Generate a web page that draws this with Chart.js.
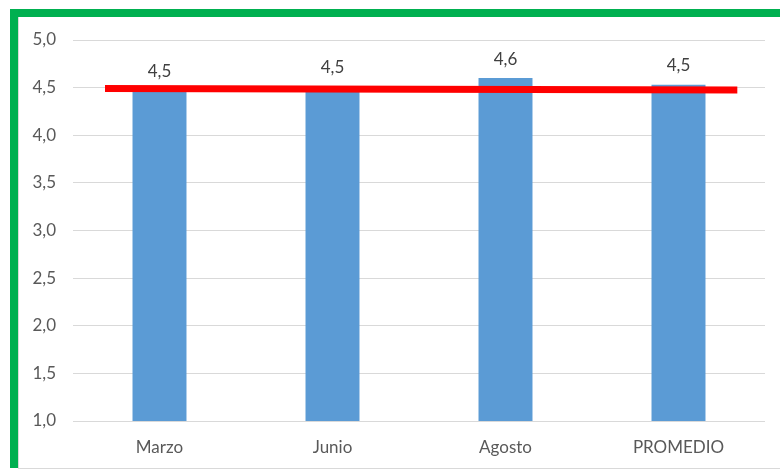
<!DOCTYPE html>
<html>
<head>
<meta charset="utf-8">
<script src="https://cdn.jsdelivr.net/npm/chart.js@4"></script>
<style>
  html, body { margin: 0; padding: 0; background: #ffffff; }
  #wrap { position: relative; width: 780px; height: 470px; overflow: hidden; }
  #frame { position: absolute; left: 10px; top: 9px; width: 790px; height: 459px;
           border-top: 8px solid #00b050; border-left: 8px solid #00b050; box-sizing: border-box; }
  #inner { position: absolute; left: 18px; top: 17px; width: 790px; height: 452px;
           border-left: 1px solid #d9d9d9; border-bottom: 1px solid #d9d9d9; box-sizing: border-box; }
  canvas { position: absolute; left: 0; top: 0; }
</style>
</head>
<body>
<div id="wrap">
  <div id="frame"></div>
  <div id="inner"></div>
  <canvas id="c" width="780" height="470"></canvas>
</div>
<script>
const categories = ['Marzo', 'Junio', 'Agosto', 'PROMEDIO'];
const barValues = [4.47, 4.51, 4.60, 4.53];
const barLabels = ['4,5', '4,5', '4,6', '4,5'];
const lineX = [0.185, 3.84];
const lineY = [4.49, 4.475];
const yMin = 1.0, yMax = 5.0, yStep = 0.5;

const FONT = 'Lato, "Open Sans", sans-serif';

const labelPlugin = {
  id: 'barLabels',
  afterDatasetsDraw(chart) {
    const meta = chart.getDatasetMeta(0);
    const ctx = chart.ctx;
    ctx.save();
    ctx.font = '17px ' + FONT;
    ctx.fillStyle = '#404040';
    ctx.textAlign = 'center';
    ctx.textBaseline = 'middle';
    meta.data.forEach((el, i) => {
      ctx.fillText(barLabels[i], el.x, el.y - 19);
    });
    ctx.restore();
  }
};

new Chart(document.getElementById('c'), {
  type: 'bar',
  data: {
    labels: categories,
    datasets: [
      {
        type: 'bar',
        data: barValues,
        backgroundColor: '#5b9bd5',
        borderWidth: 0,
        grouped: false,
        barPercentage: 0.312,
        categoryPercentage: 1.0,
        order: 2
      },
      {
        type: 'line',
        xAxisID: 'x2',
        data: lineX.map((x, i) => ({ x: x, y: lineY[i] })),
        borderColor: '#ff0000',
        borderWidth: 7,
        pointRadius: 0,
        fill: false,
        order: 1
      }
    ]
  },
  options: {
    responsive: false,
    animation: false,
    layout: { padding: { top: 40, right: 15, left: 0, bottom: 0 } },
    plugins: { legend: { display: false }, tooltip: { enabled: false } },
    scales: {
      x: {
        grid: { display: false, drawTicks: false },
        border: { display: false },
        ticks: { color: '#595959', font: { family: FONT, size: 17 }, padding: 16 },
        afterFit(s) { s.height = 49; }
      },
      x2: { type: 'linear', min: 0, max: 4, offset: false, display: false, grid: { offset: false } },
      y: {
        min: yMin, max: yMax,
        grid: { color: '#d9d9d9', lineWidth: 1, drawTicks: false },
        border: { display: false },
        ticks: {
          stepSize: yStep,
          color: '#595959',
          font: { family: FONT, size: 17 },
          padding: 17,
          callback: v => v.toFixed(1).replace('.', ',')
        },
        afterFit(s) { s.width = 73; }
      }
    }
  },
  plugins: [labelPlugin]
});
</script>
</body>
</html>
